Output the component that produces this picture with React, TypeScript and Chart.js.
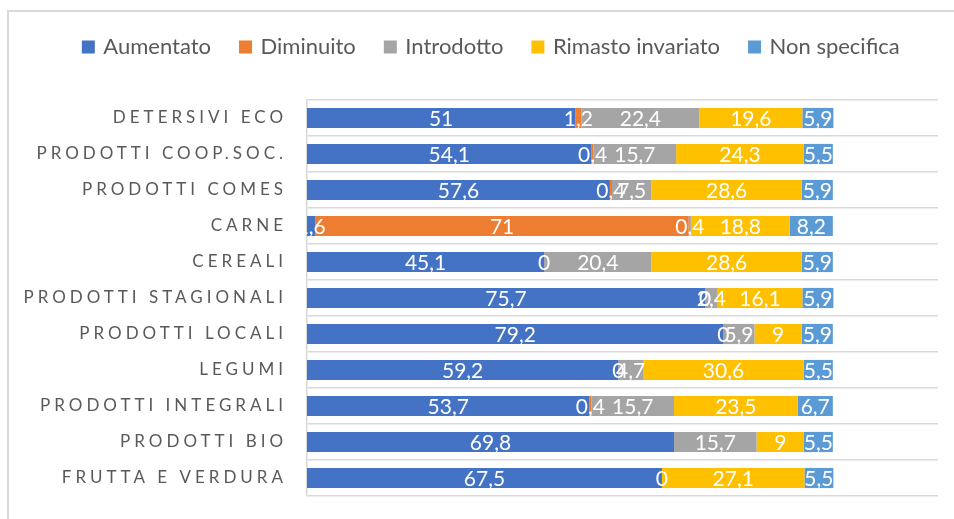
import React, { useEffect, useRef } from "react";
import { Chart, registerables } from "chart.js";

Chart.register(...registerables);

const categories = [
  "DETERSIVI ECO",
  "PRODOTTI COOP.SOC.",
  "PRODOTTI COMES",
  "CARNE",
  "CEREALI",
  "PRODOTTI STAGIONALI",
  "PRODOTTI LOCALI",
  "LEGUMI",
  "PRODOTTI INTEGRALI",
  "PRODOTTI BIO",
  "FRUTTA E VERDURA",
];

const seriesNames = ["Aumentato", "Diminuito", "Introdotto", "Rimasto invariato", "Non specifica"];
const seriesColors = ["#4472C4", "#ED7D31", "#A5A5A5", "#FFC000", "#5B9BD5"];

const aumentato = [51, 54.1, 57.6, 1.6, 45.1, 75.7, 79.2, 59.2, 53.7, 69.8, 67.5];
const diminuito = [1.2, 0.4, 0.4, 71, 0, 0, 0, 0, 0.4, null, 0];
const introdotto = [22.4, 15.7, 7.5, 0.4, 20.4, 2.4, 5.9, 4.7, 15.7, 15.7, null];
const rimastoInvariato = [19.6, 24.3, 28.6, 18.8, 28.6, 16.1, 9, 30.6, 23.5, 9, 27.1];
const nonSpecifica = [5.9, 5.5, 5.9, 8.2, 5.9, 5.9, 5.9, 5.5, 6.7, 5.5, 5.5];

const seriesValues = [aumentato, diminuito, introdotto, rimastoInvariato, nonSpecifica];

const GRID = "#d9d9d9";
const TEXT = "#595959";

const framePlugin = {
  id: "frame",
  beforeDraw(chart: any) {
    const ctx = chart.ctx;
    ctx.save();
    ctx.strokeStyle = GRID;
    ctx.lineWidth = 2;
    ctx.beginPath();
    ctx.moveTo(8, chart.height + 5);
    ctx.lineTo(8, 11);
    ctx.lineTo(chart.width + 5, 11);
    ctx.stroke();
    ctx.restore();
  },
};

const spacingPlugin = {
  id: "tickSpacing",
  beforeDraw(chart: any) {
    const y = chart.scales.y;
    if (y && !y.__spaced) {
      const orig = y.drawLabels.bind(y);
      y._computeLabelArea = () => undefined;
      y.drawLabels = (area: any) => {
        const ctx = chart.ctx;
        ctx.save();
        (ctx as any).letterSpacing = "4px";
        orig(area);
        ctx.restore();
      };
      y.__spaced = true;
    }
  },
};

const legendGapPlugin = {
  id: "legendGap",
  beforeLayout(chart: any) {
    const lg = chart.legend;
    if (lg && !lg.__gap) {
      const f = lg.fit.bind(lg);
      lg.fit = () => {
        f();
        lg.height += 32;
      };
      lg.__gap = true;
    }
  },
};

const fmt = (v: number) => String(v).replace(".", ",");

const labelsPlugin = {
  id: "barLabels",
  afterDatasetsDraw(chart: any) {
    const ctx = chart.ctx;
    ctx.save();
    ctx.font = "21px Lato";
    ctx.fillStyle = "#ffffff";
    ctx.textAlign = "center";
    ctx.textBaseline = "middle";
    chart.data.datasets.forEach((ds: any, i: number) => {
      const meta = chart.getDatasetMeta(i);
      meta.data.forEach((el: any, j: number) => {
        const v = ds.data[j];
        if (v === null || v === undefined) return;
        const p = el.getProps(["x", "base", "y"], true);
        ctx.fillText(fmt(v), (p.x + p.base) / 2, p.y + 1);
      });
    });
    ctx.restore();
  },
};

export default function App() {
  const ref = useRef<HTMLCanvasElement>(null);

  useEffect(() => {
    const chart = new Chart(ref.current as HTMLCanvasElement, {
      type: "bar",
      data: {
        labels: categories,
        datasets: seriesNames.map((name, i) => ({
          label: name,
          data: seriesValues[i] as any,
          backgroundColor: seriesColors[i],
          borderWidth: 0,
          categoryPercentage: 0.56,
          barPercentage: 1,
        })),
      },
      options: {
        indexAxis: "y",
        responsive: false,
        animation: false,
        devicePixelRatio: 1,
        layout: { padding: { left: 46, right: 16, top: 5.5, bottom: 23 } },
        plugins: {
          legend: {
            position: "top",
            labels: {
              font: { family: "Lato", size: 22 },
              color: TEXT,
              boxWidth: 8,
              boxHeight: 8,
              padding: 30.5,
              generateLabels: (chart: any) => {
                const items = (Chart as any).defaults.plugins.legend.labels.generateLabels(chart);
                return items.map((it: any) => ({
                  ...it,
                  lineWidth: 5,
                  strokeStyle: it.fillStyle,
                  lineJoin: "miter",
                  lineCap: "butt",
                }));
              },
            },
          },
          tooltip: { enabled: false },
        },
        scales: {
          x: {
            stacked: true,
            min: 0,
            max: 120,
            display: false,
          },
          y: {
            stacked: true,
            afterFit: (s: any) => {
              s.width = 261;
              s.paddingTop = 0;
              s.paddingBottom = 0;
              s.paddingLeft = 0;
              s.paddingRight = 0;
            },
            grid: {
              offset: true,
              color: GRID,
              lineWidth: 1.5,
              drawTicks: false,
            },
            border: { display: true, color: GRID, width: 1.5 },
            ticks: {
              autoSkip: false,
              padding: 20,
              color: TEXT,
              font: { family: "Lato", size: 17 },
            },
          },
        },
      },
      plugins: [framePlugin, spacingPlugin, legendGapPlugin, labelsPlugin],
    });
    return () => chart.destroy();
  }, []);

  return (
    <div style={{ position: "fixed", left: 0, top: 0, width: 954, height: 519 }}>
      <canvas ref={ref} width={954} height={519} style={{ display: "block" }} />
    </div>
  );
}
